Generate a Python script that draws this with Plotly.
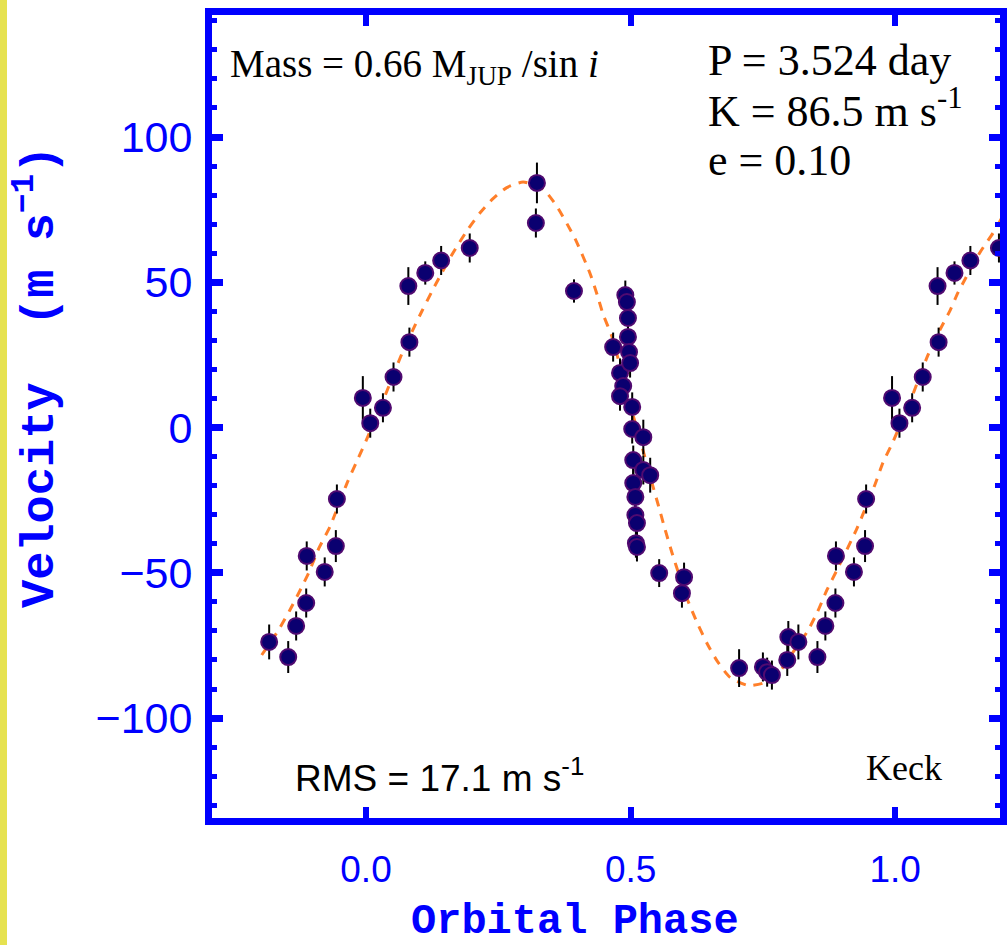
import plotly.graph_objects as go

# ---------------- data ----------------
# phase-folded radial velocities, one period (phase in [0, 1))
phase = [0.008, 0.032, 0.052, 0.080, 0.082, 0.112, 0.142, 0.196,
         0.321, 0.323, 0.393,
         0.467, 0.480, 0.486, 0.480, 0.490, 0.493, 0.495, 0.495, 0.497, 0.499,
         0.503, 0.503, 0.524, 0.505, 0.524, 0.537, 0.505, 0.509, 0.509, 0.512,
         0.510, 0.512, 0.554, 0.601, 0.597,
         0.705, 0.750, 0.758, 0.767, 0.796, 0.798, 0.817, 0.853, 0.868, 0.887,
         0.888, 0.922, 0.943, 0.945, 0.994]
velocity = [1.5, 6.8, 17.4, 48.7, 29.4, 53.2, 57.5, 61.8,
            70.4, 84.2, 47.0,
            27.7, 18.8, 14.3, 10.8, 45.6, 43.2, 37.7, 31.2, 26.0, 22.2,
            7.1, -0.5, -3.3, -11.2, -14.6, -16.4, -19.1, -23.9, -30.1, -32.9,
            -39.8, -41.1, -50.1, -51.5, -57.0,
            -82.8, -82.4, -84.2, -85.2, -80.0, -72.1, -73.8, -79.0, -68.3, -60.4,
            -44.2, -49.7, -40.8, -24.6, 10.2]
error = [5.0, 5.0, 5.0, 6.5, 5.0, 4.0, 5.0, 5.0,
         5.0, 7.0, 4.0,
         5.0, 5.0, 5.0, 5.0, 5.0, 5.0, 5.0, 5.0, 5.0, 5.0,
         5.0, 5.0, 6.0, 5.0, 5.0, 6.0, 5.0, 5.0, 5.0, 5.0,
         5.0, 5.0, 4.8, 5.0, 5.0,
         6.5, 5.0, 5.0, 5.0, 5.5, 5.5, 6.0, 5.5, 5.0, 5.0,
         5.0, 5.0, 5.5, 5.0, 7.5]

# orbital fit curve
fit_phase = [-0.197, -0.166, -0.144, -0.123, -0.108, -0.089, -0.068, -0.036, -0.017, 0.000,
             0.036, 0.068, 0.089, 0.106, 0.125, 0.144, 0.164, 0.191, 0.216, 0.240,
             0.266, 0.297, 0.335, 0.361, 0.395, 0.423, 0.437, 0.448, 0.465, 0.476,
             0.499, 0.527, 0.541, 0.552, 0.565, 0.578, 0.594, 0.607, 0.626, 0.645,
             0.664, 0.688, 0.722, 0.750, 0.769, 0.786, 0.803, 0.834, 0.853, 0.871,
             0.890, 0.928, 0.962, 0.977, 0.996, 1.032, 1.062, 1.085, 1.104, 1.119,
             1.161, 1.185, 1.204]
fit_velocity = [-78.3, -69.9, -62.9, -55.5, -49.9, -41.5, -34.1, -19.2, -11.5, -4.6,
                11.0, 25.5, 33.8, 40.2, 47.0, 53.5, 60.0, 67.8, 74.0, 78.8,
                82.6, 84.5, 82.0, 76.0, 65.0, 53.2, 45.6, 39.0, 31.2, 24.0,
                8.0, -10.2, -19.5, -26.5, -35.0, -43.0, -52.0, -59.0, -67.3, -74.5,
                -80.5, -86.0, -88.8, -88.0, -85.9, -83.0, -78.3, -70.2, -63.5, -55.9,
                -49.0, -34.6, -19.5, -12.0, -4.8, 10.8, 25.0, 33.8, 40.4, 46.6,
                60.5, 67.0, 73.0]

x_ticks = [0.0, 0.5, 1.0]
x_tick_labels = ["0.0", "0.5", "1.0"]
y_ticks = [-100, -50, 0, 50, 100]

# phase window in which the folded data are repeated
phase_min, phase_max = -0.2, 1.2

# ---------------- layout geometry ----------------
W, H = 1007, 945
L, R, T, B = 212, 1000, 15, 818   # plot area in pixels


def px(x):
    return (x - L) / (R - L)


def py(y):
    return (B - y) / (B - T)


BLUE = "#0000FF"

xs, ys, es = [], [], []
for off in (-1, 0, 1):
    for p, v, e in zip(phase, velocity, error):
        q = p + off
        if phase_min <= q <= phase_max:
            xs.append(q)
            ys.append(v)
            es.append(e)

fig = go.Figure()
fig.add_trace(go.Scatter(
    x=fit_phase, y=fit_velocity, mode="lines",
    line=dict(color="#FF7F2A", width=3, dash="9px,8px", shape="spline", smoothing=0.6),
    hoverinfo="skip", showlegend=False))
fig.add_trace(go.Scatter(
    x=xs, y=ys, mode="markers",
    marker=dict(symbol="circle", size=16, color="#0A0070",
                line=dict(color="#500A70", width=2)),
    error_y=dict(type="data", array=es, visible=True, color="black",
                 thickness=2, width=0),
    showlegend=False))

axis_common = dict(
    showline=True, linecolor=BLUE, linewidth=7, mirror="ticks",
    ticks="inside", tickcolor=BLUE, showgrid=False, zeroline=False,
    automargin=False,
)

fig.update_xaxes(
    range=[-0.291, 1.198], tickvals=x_ticks, ticktext=x_tick_labels,
    ticklen=11, tickwidth=6, ticklabelstandoff=13,
    tickfont=dict(family="Liberation Sans", size=37, color=BLUE),
    **axis_common)
fig.update_yaxes(
    range=[-134.4, 142.0], tickvals=y_ticks,
    ticklen=11, tickwidth=7, ticklabelstandoff=4,
    tickfont=dict(family="Liberation Sans", size=43, color=BLUE),
    minor=dict(dtick=10, ticks="inside", ticklen=5, tickwidth=5, tickcolor=BLUE),
    **axis_common)

serif = "Liberation Serif"
annotations = [
    dict(text="Mass = 0.66 M<sub>JUP</sub> /sin <i>i</i>", x=px(228), y=py(66),
         xanchor="left", yanchor="middle", font=dict(family=serif, size=39, color="black")),
    dict(text="P = 3.524 day", x=px(706), y=py(60),
         xanchor="left", yanchor="middle", font=dict(family=serif, size=44, color="black")),
    dict(text="K = 86.5 m s<sup>-1</sup>", x=px(706), y=py(108),
         xanchor="left", yanchor="middle", font=dict(family=serif, size=44, color="black")),
    dict(text="e = 0.10", x=px(706), y=py(161),
         xanchor="left", yanchor="middle", font=dict(family=serif, size=44, color="black")),
    dict(text="RMS = 17.1 m s<sup>-1</sup>", x=px(293), y=py(775),
         xanchor="left", yanchor="middle", font=dict(family="Liberation Sans", size=37, color="black")),
    dict(text="Keck", x=px(864), y=py(768),
         xanchor="left", yanchor="middle", font=dict(family=serif, size=36, color="black")),
    dict(text="Velocity&nbsp; (m s<sup>−1</sup>)", x=px(36), y=py(377), textangle=-90,
         xanchor="center", yanchor="middle",
         font=dict(family="Liberation Mono", size=47, color=BLUE, weight="bold")),
    dict(text="Orbital Phase", x=px(575), y=py(922),
         xanchor="center", yanchor="middle",
         font=dict(family="Liberation Mono", size=42, color=BLUE, weight="bold")),
]
for a in annotations:
    a.update(xref="paper", yref="paper", showarrow=False)

fig.update_layout(
    width=W, height=H,
    margin=dict(l=L, r=W - R, t=T, b=H - B, pad=0, autoexpand=False),
    paper_bgcolor="white", plot_bgcolor="white",
    annotations=annotations,
    shapes=[dict(type="rect", xref="paper", yref="paper",
                 x0=px(-5), x1=px(7), y0=py(H + 5), y1=py(-5),
                 fillcolor="#E6E250", line=dict(width=0), layer="below")],
)

fig.write_html(
    "out.html",
    config={"displayModeBar": False, "staticPlot": True},
    post_script="document.body.style.margin='0px';document.body.style.overflow='hidden';",
)
